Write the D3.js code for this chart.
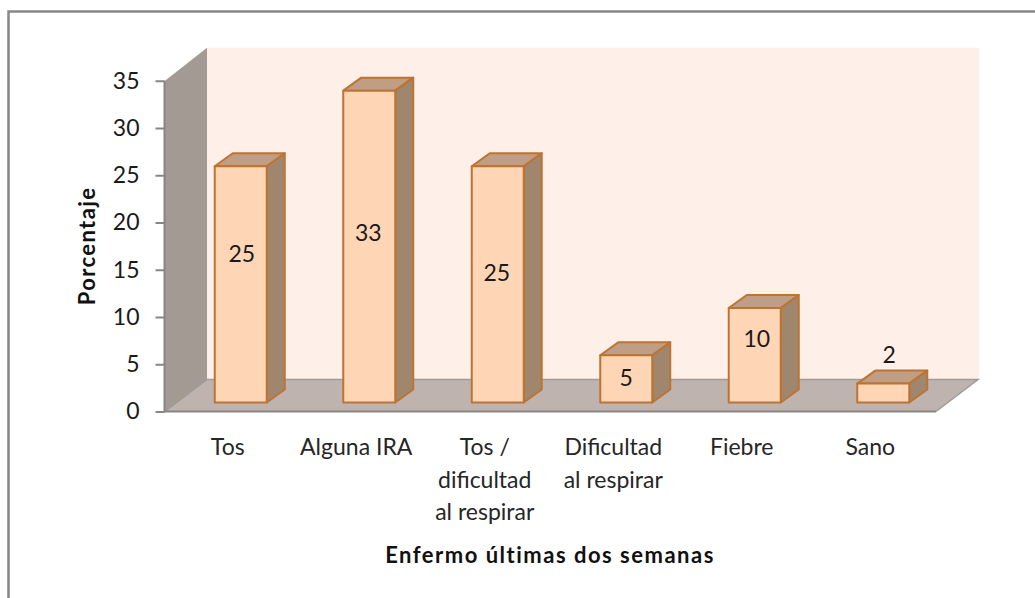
<!DOCTYPE html>
<html><head><meta charset="utf-8">
<script src="https://cdn.jsdelivr.net/npm/d3@7"></script>
<style>html,body{margin:0;padding:0;background:#fff}svg{display:block}text{font-family:Lato,"Open Sans",sans-serif}</style>
</head><body><svg id="c" width="1035" height="598"></svg>
<script>
const categories = ["Tos","Alguna IRA","Tos / dificultad al respirar","Dificultad al respirar","Fiebre","Sano"];
const categoryLines = [["Tos"],["Alguna IRA"],["Tos /","dificultad","al respirar"],["Dificultad","al respirar"],["Fiebre"],["Sano"]];
const values = [25,33,25,5,10,2];
const labelHeights = [15.7,17.9,13.7,2.6,6.7,5.0];
const labelShift = [1,-1,-1,0,2,6];
const yTicks = [0,5,10,15,20,25,30,35];
const yTitle = "Porcentaje";
const xTitle = "Enfermo últimas dos semanas";

const svg = d3.select("#c");
const W = 1035, H = 598;
const floorFront = 411.5, barBase = 402.5, unit = 9.45;
const y = d3.scaleLinear().domain([0,35]).range([floorFront, floorFront - 35*unit]);
const yBar = d3.scaleLinear().domain([0,35]).range([barBase, barBase - 35*unit]);
const x = d3.scaleBand().domain(categories).range([176.5,947.5]);
const barW = 52, depthX = 42, depthY = 32, bx = 18, by = 13;
const left = 165, right = 936;
const fs = 23;

const poly = pts => pts.map(p=>p.join(",")).join(" ");

// frame: left and top edges only
svg.append("path").attr("d",`M8.5,${H} V11.5 H${W}`).attr("fill","none").attr("stroke","#868686").attr("stroke-width",2.5);

// back wall
svg.append("polygon").attr("points",poly([[left+depthX,y(35)-depthY-1],[right+depthX+1,y(35)-depthY-1],[right+depthX+1,y(0)-depthY],[left+depthX,y(0)-depthY]])).attr("fill","#feefe8");
// side wall
svg.append("polygon").attr("points",poly([[left,y(35)],[left+depthX,y(35)-depthY-1],[left+depthX,y(0)-depthY],[left,y(0)]])).attr("fill","#a39a94");
// floor
svg.append("polygon").attr("points",poly([[left,y(0)],[left+depthX,y(0)-depthY],[right+depthX,y(0)-depthY],[right,y(0)]])).attr("fill","#bfb3af");
svg.append("path").attr("d",`M${left},${y(0)} L${left+depthX},${y(0)-depthY} H${right+depthX} L${right},${y(0)}`).attr("fill","none").attr("stroke","#a09a97").attr("stroke-width",1.5);

// y axis
const axis = d3.axisLeft(y).tickValues(yTicks).tickSize(9).tickPadding(16);
const gy = svg.append("g").attr("transform",`translate(${left-0.5},0)`).call(axis);
gy.selectAll("path,line").attr("stroke","#868686").attr("stroke-width",2);
gy.selectAll("text").attr("font-size",fs).attr("font-family","Lato").attr("fill","#1a1a1a");
gy.select(".domain").attr("d",`M0,${y(35)}V${y(0)}`);
svg.append("line").attr("x1",left-1).attr("x2",right).attr("y1",y(0)).attr("y2",y(0)).attr("stroke","#868686").attr("stroke-width",2);

// bars
const stroke = "#bd7433";
const bars = svg.append("g").selectAll("g").data(categories).join("g");
bars.each(function(c,i){
  const g = d3.select(this), x0 = x(c)+x.bandwidth()/2-barW/2, x1 = x0+barW, t = yBar(values[i]), b = yBar(0);
  const st = s => s.attr("stroke",stroke).attr("stroke-width",2).attr("stroke-linejoin","round");
  st(g.append("polygon").attr("points",poly([[x0,t],[x0+bx,t-by],[x1+bx,t-by],[x1,t]])).attr("fill","#bf9e85"));
  st(g.append("polygon").attr("points",poly([[x1,t],[x1+bx,t-by],[x1+bx,b-by],[x1,b]])).attr("fill","#a1866e"));
  st(g.append("rect").attr("x",x0).attr("y",t).attr("width",barW).attr("height",b-t).attr("fill","#fed5b5"));
  g.append("text").attr("x",x(c)+x.bandwidth()/2+labelShift[i]).attr("y",yBar(labelHeights[i])).attr("dy","0.35em")
    .attr("text-anchor","middle").attr("font-size",fs).attr("fill","#1a1a1a").text(values[i]);
});

// category labels
const labels = svg.append("g").selectAll("text").data(categories).join("text")
  .attr("text-anchor","middle").attr("font-size",fs).attr("fill","#262626");
labels.each(function(c,i){
  d3.select(this).selectAll("tspan").data(categoryLines[i]).join("tspan")
    .attr("x",x(c)+x.bandwidth()/2-13).attr("y",(d,k)=>455+k*32.5).text(d=>d);
});

// titles
svg.append("text").attr("transform","translate(95,246) rotate(-90)").attr("text-anchor","middle")
  .attr("font-size",22).attr("letter-spacing",1.4).attr("font-weight",700).attr("fill","#111").text(yTitle);
svg.append("text").attr("x",550).attr("y",563).attr("text-anchor","middle")
  .attr("font-size",22).attr("letter-spacing",1.5).attr("font-weight",700).attr("fill","#111").text(xTitle);
</script></body></html>
